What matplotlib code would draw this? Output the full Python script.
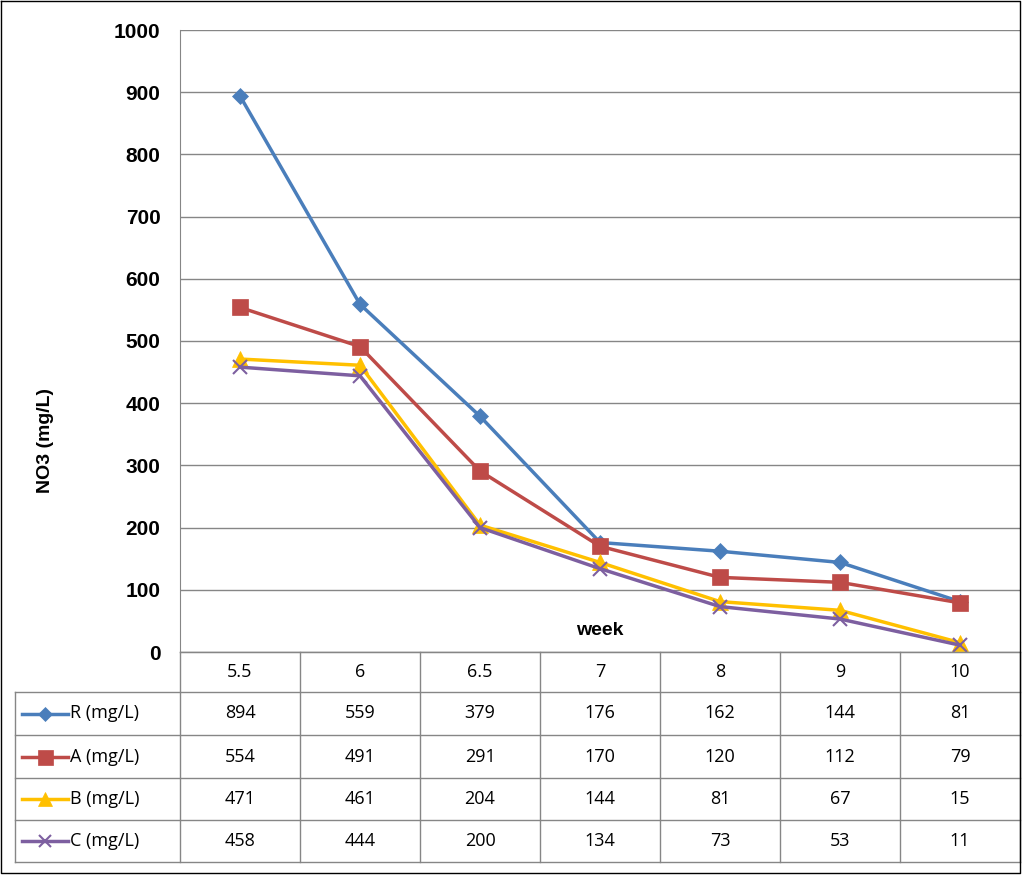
import matplotlib
matplotlib.use("Agg")
import matplotlib.pyplot as plt
from matplotlib.lines import Line2D

weeks = ["5.5", "6", "6.5", "7", "8", "9", "10"]
series_names = ["R (mg/L)", "A (mg/L)", "B (mg/L)", "C (mg/L)"]
R = [894, 559, 379, 176, 162, 144, 81]
A = [554, 491, 291, 170, 120, 112, 79]
B = [471, 461, 204, 144, 81, 67, 15]
C = [458, 444, 200, 134, 73, 53, 11]
values = [R, A, B, C]
colors = ["#4A7EBB", "#BE4B48", "#FFC000", "#7D5FA0"]
markers = ["D", "s", "^", "x"]
msizes = [8, 12, 11, 10]

W, H = 1022, 875
fig = plt.figure(figsize=(W/100, H/100), dpi=100)
L, Rt, T, B0 = 180, 1020, 30, 652
ax = fig.add_axes([L/W, 1-B0/H, (Rt-L)/W, (B0-T)/H])
x = [i + 0.5 for i in range(len(weeks))]
for v, c, m, ms in zip(values, colors, markers, msizes):
    ax.plot(x, v, color=c, lw=2.5, marker=m, ms=ms, mew=1.5 if m == "x" else 0.5,
            mec=c, zorder=3)
ax.set_xlim(0, len(weeks))
ax.set_ylim(0, 1000)
ax.set_yticks(range(0, 1001, 100))
ax.set_xticks([])
ax.grid(axis="y", color="#868686", lw=1)
ax.set_axisbelow(True)
for s in ["top", "right"]:
    ax.spines[s].set_visible(False)
ax.spines["left"].set_color("#868686")
ax.spines["bottom"].set_color("#868686")
ax.tick_params(axis="y", length=0, pad=14, labelsize=15)
for t in ax.get_yticklabels():
    t.set_fontweight("bold"); t.set_fontfamily("Liberation Sans")
ax.text(0.5, 0.035, "week", transform=ax.transAxes, ha="center", va="center",
        fontsize=14, fontweight="bold", family="Liberation Sans")
fig.text(45/W, 1-440/H, "NO3 (mg/L)", rotation=90, ha="center", va="center",
         fontsize=14, fontweight="bold", family="Liberation Sans")

# table
tx = fig.add_axes([0, 0, 1, 1])
tx.set_xlim(0, W); tx.set_ylim(H, 0); tx.axis("off")
rows = [652, 692, 735, 778, 820, 862]
gc = "#868686"
for y in rows[1:]:
    tx.plot([15, Rt], [y, y], color=gc, lw=1)
tx.plot([L, Rt], [rows[0], rows[0]], color=gc, lw=1)
colx = [L + i * 120 for i in range(8)]
for cx in colx:
    tx.plot([cx, cx], [rows[0], rows[-1]], color=gc, lw=1)
tx.plot([15, 15], [rows[1], rows[-1]], color=gc, lw=1)
tf = "Open Sans"
for i, w in enumerate(weeks):
    tx.text(colx[i] + 60, (rows[0]+rows[1])/2, w, ha="center", va="center", fontsize=13, family=tf)
for r, (name, v, c, m, ms) in enumerate(zip(series_names, values, colors, markers, msizes)):
    yc = (rows[r+1] + rows[r+2]) / 2
    tx.add_line(Line2D([22, 68], [yc, yc], color=c, lw=2.5))
    tx.plot([45], [yc], marker=m, color=c, ms=ms*0.9, mew=1.5 if m == "x" else 0.5, mec=c)
    tx.text(70, yc, name, ha="left", va="center", fontsize=13, family=tf)
    for i, val in enumerate(v):
        tx.text(colx[i] + 60, yc, str(val), ha="center", va="center", fontsize=13, family=tf)
tx.plot([1, W-2, W-2, 1, 1], [1, 1, H-2, H-2, 1], color="black", lw=1)
fig.savefig("out.png", dpi=100)
